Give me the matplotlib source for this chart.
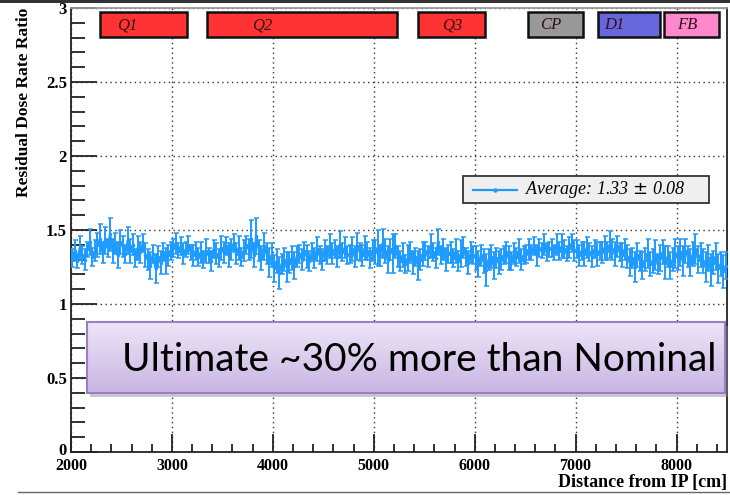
import numpy as np
import matplotlib
matplotlib.use("Agg")
import matplotlib.pyplot as plt
from matplotlib.patches import Rectangle
from matplotlib.lines import Line2D
from matplotlib.ticker import MultipleLocator
from matplotlib.transforms import ScaledTranslation

# Residual dose rate ratio (Ultimate / Nominal) along the beam line, 25 cm bins
ratio = [
    1.31, 1.36, 1.29, 1.38, 1.33, 1.30, 1.37, 1.42, 1.32, 1.36,
    1.40, 1.44, 1.35, 1.43, 1.38, 1.47, 1.36, 1.41, 1.33, 1.42,
    1.39, 1.34, 1.43, 1.36, 1.40, 1.31, 1.38, 1.35, 1.41, 1.33,
    1.30, 1.26, 1.34, 1.24, 1.32, 1.28, 1.35, 1.29, 1.33, 1.36,
    1.38, 1.41, 1.36, 1.39, 1.34, 1.37, 1.40, 1.35, 1.33, 1.36,
    1.32, 1.35, 1.30, 1.36, 1.33, 1.29, 1.37, 1.34, 1.31, 1.38,
    1.35, 1.39, 1.33, 1.37, 1.41, 1.34, 1.38, 1.32, 1.36, 1.40,
    1.37, 1.44, 1.33, 1.46, 1.36, 1.31, 1.39, 1.34, 1.28, 1.33,
    1.24, 1.29, 1.21, 1.27, 1.30, 1.25, 1.28, 1.31, 1.26, 1.32,
    1.34, 1.30, 1.36, 1.32, 1.29, 1.35, 1.31, 1.37, 1.33, 1.30,
    1.36, 1.33, 1.39, 1.34, 1.37, 1.32, 1.40, 1.35, 1.38, 1.33,
    1.34, 1.37, 1.32, 1.39, 1.35, 1.33, 1.38, 1.36, 1.31, 1.36,
    1.35, 1.38, 1.33, 1.41, 1.36, 1.30, 1.37, 1.34, 1.39, 1.32,
    1.29, 1.33, 1.27, 1.31, 1.35, 1.28, 1.32, 1.26, 1.30, 1.34,
    1.36, 1.32, 1.39, 1.35, 1.31, 1.42, 1.33, 1.37, 1.30, 1.34,
    1.35, 1.31, 1.36, 1.29, 1.34, 1.38, 1.32, 1.28, 1.35, 1.33,
    1.31, 1.27, 1.33, 1.29, 1.23, 1.30, 1.32, 1.26, 1.31, 1.28,
    1.30, 1.33, 1.35, 1.31, 1.29, 1.34, 1.32, 1.36, 1.30, 1.33,
    1.34, 1.37, 1.35, 1.39, 1.33, 1.38, 1.36, 1.40, 1.35, 1.37,
    1.38, 1.35, 1.40, 1.36, 1.39, 1.37, 1.34, 1.38, 1.41, 1.36,
    1.37, 1.33, 1.36, 1.34, 1.38, 1.35, 1.32, 1.37, 1.34, 1.36,
    1.35, 1.38, 1.36, 1.40, 1.37, 1.34, 1.39, 1.35, 1.33, 1.37,
    1.32, 1.28, 1.31, 1.25, 1.33, 1.29, 1.26, 1.30, 1.34, 1.27,
    1.29, 1.33, 1.27, 1.31, 1.35, 1.28, 1.32, 1.26, 1.30, 1.34,
    1.31, 1.35, 1.29, 1.36, 1.32, 1.28, 1.34, 1.37, 1.30, 1.33,
    1.29, 1.25, 1.31, 1.23, 1.28, 1.32, 1.24, 1.27, 1.22, 1.26,
]
ratio_err = [
    0.06, 0.07, 0.05, 0.08, 0.06, 0.07, 0.05, 0.09, 0.06, 0.07,
    0.08, 0.10, 0.07, 0.09, 0.06, 0.11, 0.08, 0.07, 0.09, 0.08,
    0.07, 0.06, 0.09, 0.08, 0.07, 0.06, 0.08, 0.07, 0.06, 0.08,
    0.07, 0.09, 0.06, 0.10, 0.07, 0.08, 0.06, 0.09, 0.07, 0.06,
    0.06, 0.07, 0.05, 0.06, 0.07, 0.05, 0.06, 0.05, 0.07, 0.06,
    0.06, 0.07, 0.06, 0.08, 0.05, 0.07, 0.06, 0.07, 0.06, 0.08,
    0.07, 0.06, 0.08, 0.07, 0.06, 0.07, 0.08, 0.06, 0.07, 0.06,
    0.07, 0.13, 0.08, 0.12, 0.07, 0.08, 0.09, 0.07, 0.10, 0.08,
    0.09, 0.08, 0.11, 0.07, 0.08, 0.10, 0.07, 0.08, 0.09, 0.07,
    0.06, 0.07, 0.06, 0.08, 0.07, 0.06, 0.07, 0.08, 0.06, 0.07,
    0.07, 0.06, 0.08, 0.07, 0.06, 0.07, 0.09, 0.06, 0.07, 0.06,
    0.06, 0.08, 0.07, 0.09, 0.06, 0.07, 0.08, 0.06, 0.07, 0.07,
    0.08, 0.12, 0.07, 0.10, 0.08, 0.09, 0.07, 0.13, 0.08, 0.07,
    0.07, 0.08, 0.06, 0.09, 0.07, 0.08, 0.06, 0.10, 0.07, 0.08,
    0.06, 0.07, 0.08, 0.06, 0.07, 0.09, 0.06, 0.07, 0.08, 0.06,
    0.07, 0.06, 0.08, 0.07, 0.09, 0.07, 0.06, 0.08, 0.07, 0.06,
    0.08, 0.09, 0.07, 0.08, 0.11, 0.07, 0.08, 0.09, 0.07, 0.08,
    0.07, 0.06, 0.07, 0.08, 0.06, 0.07, 0.06, 0.08, 0.07, 0.06,
    0.06, 0.07, 0.05, 0.06, 0.07, 0.06, 0.05, 0.07, 0.06, 0.05,
    0.06, 0.05, 0.07, 0.06, 0.08, 0.06, 0.05, 0.07, 0.06, 0.07,
    0.06, 0.07, 0.06, 0.08, 0.07, 0.06, 0.07, 0.06, 0.08, 0.06,
    0.07, 0.08, 0.06, 0.09, 0.07, 0.08, 0.07, 0.06, 0.08, 0.07,
    0.08, 0.09, 0.07, 0.10, 0.08, 0.07, 0.09, 0.08, 0.10, 0.08,
    0.08, 0.10, 0.07, 0.09, 0.08, 0.11, 0.07, 0.09, 0.08, 0.10,
    0.08, 0.09, 0.10, 0.08, 0.07, 0.09, 0.08, 0.10, 0.09, 0.08,
    0.08, 0.10, 0.09, 0.11, 0.08, 0.09, 0.10, 0.08, 0.11, 0.09,
]
distance = 2012.5 + 25.0 * np.arange(len(ratio))

# Magnet layout along the line (start, end, label position in cm) and colours
magnet_names = ["Q1", "Q2", "Q3", "CP", "D1", "FB"]
magnet_start = [2290, 3350, 5435, 6525, 7220, 7880]
magnet_end = [3150, 5230, 6100, 7070, 7840, 8425]
magnet_label_x = [2560, 3900, 5775, 6755, 7380, 8110]
magnet_colors = ["#ff3333", "#ff3333", "#ff3333", "#999999", "#6666dd", "#ff88cc"]

average_label = "Average: 1.33 $\\pm$ 0.08"
note_text = "Ultimate ~30% more than Nominal"

serif = "Liberation Serif"
line_col = "#1e9bff"

fig = plt.figure(figsize=(7.3, 4.95), dpi=100)

# slide edge bars
fig.add_artist(Rectangle((0, 1 - 3 / 495), 1, 3 / 495, transform=fig.transFigure,
                         facecolor="#333333", edgecolor="none"))
fig.add_artist(Line2D([18 / 730, 1], [1 - 492 / 495] * 2, transform=fig.transFigure,
                      color="#666666", lw=1.0))

ax = fig.add_axes([71 / 730, 1 - 452 / 495, 656 / 730, 444 / 495])
ax.set_xlim(2000, 8500)
ax.set_ylim(0, 3)

ax.errorbar(distance, ratio, yerr=ratio_err, color=line_col, lw=1.7,
            elinewidth=1.4, capsize=1.8, capthick=1.1, marker="o", ms=1.6,
            zorder=3)

# Magnet boxes along the top
for name, x0, x1, lx, c in zip(magnet_names, magnet_start, magnet_end,
                               magnet_label_x, magnet_colors):
    ax.add_patch(Rectangle((x0, 2.805), x1 - x0, 0.17, facecolor=c,
                           edgecolor="#111111", lw=1.8, zorder=4))
    ax.text(lx, 2.885, name, ha="center", va="center", fontsize=12,
            family=serif, style="italic", color="#331111", zorder=5)

ax.xaxis.set_major_locator(MultipleLocator(1000))
ax.xaxis.set_minor_locator(MultipleLocator(200))
ax.set_yticks([0, 0.5, 1, 1.5, 2, 2.5, 3])
ax.set_yticklabels(["0", "0.5", "1", "1.5", "2", "2.5", "3"])
ax.yaxis.set_minor_locator(MultipleLocator(0.1))
ax.tick_params(which="both", direction="in", top=False, right=False,
               width=1.3, color="#222222")
ax.tick_params(axis="y", which="major", length=19, labelsize=12, pad=3)
ax.tick_params(axis="y", which="minor", length=10)
ax.tick_params(axis="x", which="major", length=13, labelsize=11.5, pad=4)
ax.tick_params(axis="x", which="minor", length=6)
for lab in ax.get_xticklabels() + ax.get_yticklabels():
    lab.set_fontfamily(serif)
    lab.set_fontweight("bold")
# lift the zero label slightly above the x-axis numbers
zero_lab = ax.get_yticklabels()[0]
zero_lab.set_transform(zero_lab.get_transform()
                       + ScaledTranslation(0, 3 / 100, fig.dpi_scale_trans))
ax.grid(True, which="major", ls=(0, (1, 2.5)), lw=1.0, color="#333333")
for s in ax.spines.values():
    s.set_linewidth(1.3)
    s.set_color("#222222")
ax.spines["top"].set_color("#999999")

ax.set_xlabel("Distance from IP [cm]", family=serif, fontweight="bold",
              fontsize=13, loc="right", labelpad=0)
ax.set_ylabel("Residual Dose Rate Ratio", family=serif, fontweight="bold",
              fontsize=12.5, loc="top", labelpad=10)

# Legend box for the average
lx0, ly0, lw_, lh_ = 392 / 656, 1 - 195 / 444, 246 / 656, 27 / 444
ax.add_patch(Rectangle((lx0, ly0), lw_, lh_, transform=ax.transAxes,
                       facecolor="#efefef", edgecolor="#333333", lw=1.3, zorder=6))
ax.add_line(Line2D([402 / 656, 446 / 656], [ly0 + lh_ / 2] * 2,
                   transform=ax.transAxes, color=line_col, lw=1.6, zorder=7))
ax.plot([424 / 656], [ly0 + lh_ / 2], "o", color=line_col, ms=2.2,
        transform=ax.transAxes, zorder=7)
ax.text(454 / 656, ly0 + lh_ / 2, average_label, transform=ax.transAxes,
        ha="left", va="center", family=serif, style="italic", fontsize=13,
        zorder=7)

# Callout box with gradient fill
bx, by, bw, bh = 87 / 730, 1 - 393 / 495, 638 / 730, 71 / 495
shadow = Rectangle((bx + 3 / 730, by - 4 / 495), bw, bh, transform=fig.transFigure,
                   facecolor="#888888", alpha=0.45, edgecolor="none", zorder=9)
fig.add_artist(shadow)
bax = fig.add_axes([bx, by, bw, bh], zorder=10)
grad = np.linspace(0, 1, 64)[:, None]
top_c = np.array([0.93, 0.90, 0.97])
bot_c = np.array([0.79, 0.71, 0.89])
img = top_c[None, None, :] * (1 - grad[..., None]) + bot_c[None, None, :] * grad[..., None]
bax.imshow(np.repeat(img, 2, axis=1), aspect="auto", extent=(0, 1, 0, 1))
bax.set_xlim(0, 1)
bax.set_ylim(0, 1)
bax.set_xticks([])
bax.set_yticks([])
for s in bax.spines.values():
    s.set_color("#9b7fc2")
    s.set_linewidth(1.5)
bax.text(0.52, 0.46, note_text, ha="center", va="center", fontsize=28,
         family="Lato", color="black")

fig.savefig("out.png", dpi=100)
